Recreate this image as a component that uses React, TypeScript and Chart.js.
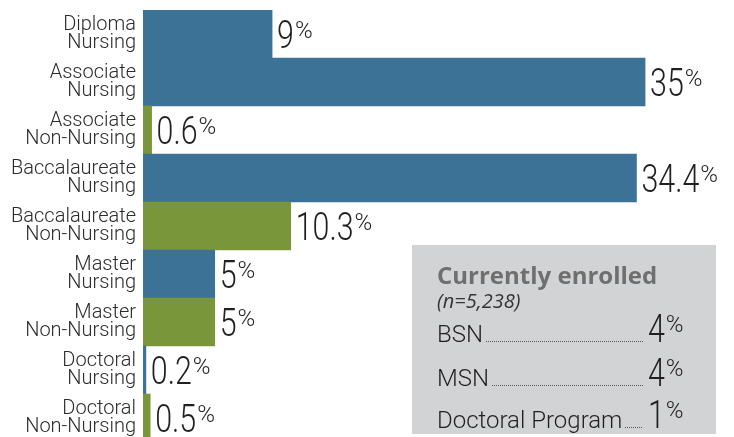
import React, { useEffect, useRef } from "react";
import { Chart, registerables } from "chart.js";

Chart.register(...registerables);

const categories: string[][] = [
  ["Diploma", "Nursing"],
  ["Associate", "Nursing"],
  ["Associate", "Non-Nursing"],
  ["Baccalaureate", "Nursing"],
  ["Baccalaureate", "Non-Nursing"],
  ["Master", "Nursing"],
  ["Master", "Non-Nursing"],
  ["Doctoral", "Nursing"],
  ["Doctoral", "Non-Nursing"],
];
const values = [9, 35, 0.6, 34.4, 10.3, 5, 5, 0.2, 0.5];
const isNursing = [true, true, false, true, false, true, false, true, false];

const insetTitle = "Currently enrolled";
const insetNote = "(n=5,238)";
const enrolledLabels = ["BSN", "MSN", "Doctoral Program"];
const enrolledValues = [4, 4, 1];

const BLUE = "#3b7296";
const GREEN = "#7a963b";
const NUM_FONT = "Roboto";

function drawNumber(ctx: CanvasRenderingContext2D, text: string, x: number, baseline: number) {
  const sx = 0.8;
  ctx.save();
  ctx.fillStyle = "#231f20";
  ctx.font = `300 38px ${NUM_FONT}`;
  ctx.textAlign = "left";
  ctx.textBaseline = "alphabetic";
  const w = ctx.measureText(text).width * sx;
  ctx.translate(x, baseline);
  ctx.scale(sx, 1);
  ctx.fillText(text, 0, 0);
  ctx.restore();
  ctx.save();
  ctx.fillStyle = "#231f20";
  ctx.font = `300 24px ${NUM_FONT}`;
  ctx.textAlign = "left";
  ctx.textBaseline = "alphabetic";
  ctx.fillText("%", x + w + 1, baseline - 27 + 17);
  ctx.restore();
}

const valueLabelPlugin = {
  id: "valueLabels",
  afterDatasetsDraw(chart: any) {
    const ctx = chart.ctx as CanvasRenderingContext2D;
    const meta = chart.getDatasetMeta(0);
    meta.data.forEach((bar: any, i: number) => {
      drawNumber(ctx, String(values[i]), bar.x + 5, bar.y + 13.5);
    });
  },
};

const insetPlugin = {
  id: "inset",
  afterDraw(chart: any) {
    const ctx = chart.ctx as CanvasRenderingContext2D;
    ctx.save();
    ctx.fillStyle = "#d2d3d5";
    ctx.fillRect(412, 245, 304, 189);
    ctx.fillStyle = "#6f6f6f";
    ctx.font = "bold 24px 'Open Sans'";
    ctx.textAlign = "left";
    ctx.textBaseline = "alphabetic";
    ctx.fillText(insetTitle, 437, 284);
    ctx.fillStyle = "#333333";
    ctx.font = "italic 20px 'Open Sans'";
    ctx.fillText(insetNote, 437, 308);
    const baselines = [342, 386, 428];
    enrolledLabels.forEach((lab, i) => {
      const b = baselines[i];
      ctx.fillStyle = "#231f20";
      ctx.font = `300 24px ${NUM_FONT}`;
      ctx.fillText(lab, 437, b);
      const end = 437 + ctx.measureText(lab).width + 3;
      ctx.fillStyle = "#555555";
      for (let dx = end; dx < 643; dx += 2) {
        ctx.fillRect(Math.round(dx), b - 1, 1, 1);
      }
      drawNumber(ctx, String(enrolledValues[i]), 648, b);
    });
    ctx.restore();
  },
};

export default function App() {
  const ref = useRef<HTMLCanvasElement | null>(null);
  useEffect(() => {
    if (!ref.current) return;
    const chart = new Chart(ref.current, {
      type: "bar",
      data: {
        labels: categories,
        datasets: [
          {
            data: values,
            backgroundColor: isNursing.map((n) => (n ? BLUE : GREEN)),
            borderWidth: 0,
            barPercentage: 1,
            categoryPercentage: 1,
          },
        ],
      },
      options: {
        indexAxis: "y",
        animation: false,
        responsive: false,
        devicePixelRatio: 1,
        layout: { padding: { top: 10, left: 0, right: 0, bottom: 0 } },
        plugins: { legend: { display: false }, tooltip: { enabled: false } },
        scales: {
          x: { display: false, min: 0, max: 41.2 },
          y: {
            grid: { display: false, drawTicks: false },
            border: { display: false },
            ticks: {
              color: "#2b2b2b",
              padding: 7,
              font: { family: NUM_FONT, size: 20, weight: "300", lineHeight: 0.93 },
            },
            afterFit(scale: any) {
              scale.width = 143;
              scale.paddingTop = 0;
              scale.paddingBottom = 0;
            },
          },
        },
      },
      plugins: [valueLabelPlugin, insetPlugin],
    } as any);
    return () => chart.destroy();
  }, []);
  return (
    <div style={{ position: "fixed", left: 0, top: 0, width: 734, height: 442, background: "#fff" }}>
      <canvas ref={ref} width={734} height={442} style={{ display: "block" }} />
    </div>
  );
}
